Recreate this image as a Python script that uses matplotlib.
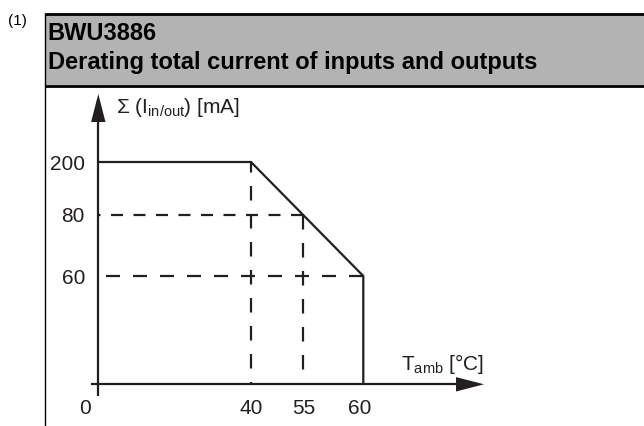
import numpy as np
import matplotlib
matplotlib.use("Agg")
import matplotlib.pyplot as plt
from matplotlib.patches import Rectangle
from matplotlib.lines import Line2D

# ---------------- data ----------------
title_code = "BWU3886"
title_text = "Derating total current of inputs and outputs"
note_text = "(1)"
curve_T = [0, 40, 60, 60]          # ambient temperature [°C]
curve_I = [200, 200, 60, 0]        # total current [mA]
guide_T = [40, 55, 60]
guide_I = [200, 80, 60]
x_tick_vals = [0, 40, 55, 60]
x_tick_labels = ["0", "40", "55", "60"]
y_tick_vals = [60, 80, 200]
y_tick_labels = ["60", "80", "200"]
y_label = "\u03a3 (I$_{in/out}$) [mA]"
x_label = "T$_{amb}$ [°C]"

# ---------------- style ----------------
plt.rcParams['font.family'] = ['Liberation Sans', 'DejaVu Sans']
plt.rcParams['mathtext.fontset'] = 'custom'
plt.rcParams['mathtext.rm'] = 'Liberation Sans'
plt.rcParams['mathtext.it'] = 'Liberation Sans'
plt.rcParams['mathtext.default'] = 'regular'
plt.rcParams['lines.scale_dashes'] = False

INK = '#231f20'
GRAY = '#b3b3b3'
W, H = 644, 426
PT = 0.72  # px -> pt at dpi 100

fig = plt.figure(figsize=(W / 100, H / 100), dpi=100)
fx = lambda x: x / W
fy = lambda y: 1 - y / H

# header box
fig.add_artist(Rectangle((fx(45), fy(85)), fx(W) - fx(45), fy(14) - fy(85),
                         transform=fig.transFigure, facecolor=GRAY, edgecolor='none'))
fig.add_artist(Line2D([fx(45), 1], [fy(14), fy(14)], transform=fig.transFigure,
                      color='black', lw=2.0, solid_capstyle='butt'))
fig.add_artist(Line2D([fx(45), 1], [fy(85.5), fy(85.5)], transform=fig.transFigure,
                      color='black', lw=2.0, solid_capstyle='butt'))
fig.add_artist(Line2D([fx(45), fx(45)], [fy(13), 0], transform=fig.transFigure,
                      color='black', lw=1.0, solid_capstyle='butt'))
fig.text(fx(8), fy(25), note_text, fontsize=11, va='baseline', ha='left', color='black')
fig.text(fx(47.5), fy(40.5), title_code, fontsize=17, fontweight='bold',
         va='baseline', ha='left', color='black')
fig.text(fx(47.5), fy(69.5), title_text, fontsize=17, fontweight='bold',
         va='baseline', ha='left', color='black')

# ---------------- schematic (non-linear) axis scales ----------------
x0_px, y0_px = 98.3, 384.3
xb_val = np.array([-20, 0, 40, 55, 60, 120], float)
xb_pos = np.array([-76.4, 0, 152.7, 205.0, 265.0, 530.2])
yb_val = np.array([-40, 0, 60, 80, 200, 400], float)
yb_pos = np.array([-72.2, 0, 108.3, 169.3, 222.3, 442.3])

xf = lambda v: np.interp(v, xb_val, xb_pos)
xi = lambda p: np.interp(p, xb_pos, xb_val)
yf = lambda v: np.interp(v, yb_val, yb_pos)
yi = lambda p: np.interp(p, yb_pos, yb_val)

ax_l, ax_r, ax_b, ax_t = 91.0, 484.0, 395.7, 94.0
ax = fig.add_axes([fx(ax_l), fy(ax_b), (ax_r - ax_l) / W, (ax_b - ax_t) / H])
ax.set_xscale('function', functions=(xf, xi))
ax.set_yscale('function', functions=(yf, yi))
ax.set_xlim(xi(ax_l - x0_px), xi(ax_r - x0_px))
ax.set_ylim(yi(y0_px - ax_b), yi(y0_px - ax_t))
ax.patch.set_visible(False)

for s in ['top', 'right']:
    ax.spines[s].set_visible(False)
ax.spines['left'].set_position(('data', 0))
ax.spines['bottom'].set_position(('data', 0))
for s in ['left', 'bottom']:
    ax.spines[s].set_color(INK)
    ax.spines[s].set_linewidth(1.6)
    ax.spines[s].set_capstyle('butt')
ax.spines['bottom'].set_bounds(xi(ax_l - x0_px), xi(ax_r - x0_px - 6))
ax.spines['left'].set_bounds(yi(y0_px - ax_b), yi(y0_px - ax_t - 6))

# arrow heads
head = '-|>,head_length=%.2f,head_width=%.2f' % (28 * PT, 7.2 * PT)
ax.annotate('', xy=(1, 0), xycoords=ax.get_yaxis_transform(),
            xytext=(-30 * PT, 0), textcoords='offset points',
            arrowprops=dict(arrowstyle=head, mutation_scale=1, lw=0, color=INK,
                            shrinkA=0, shrinkB=0))
ax.annotate('', xy=(0, 1), xycoords=ax.get_xaxis_transform(),
            xytext=(0, -30 * PT), textcoords='offset points',
            arrowprops=dict(arrowstyle=head, mutation_scale=1, lw=0, color=INK,
                            shrinkA=0, shrinkB=0))

# derating curve
ax.plot(curve_T, curve_I, color=INK, lw=1.6, solid_joinstyle='miter',
        solid_capstyle='butt', clip_on=False)

# dashed guides
vdash = (0, (14.5 * PT, 13.5 * PT))
ax.plot([guide_T[0], guide_T[0]], [guide_I[0], 0], color=INK, lw=1.6,
        ls=(4 * PT, (14.5 * PT, 13.5 * PT)), dash_capstyle='butt')
ax.plot([guide_T[1], guide_T[1]], [guide_I[1], 0], color=INK, lw=1.6,
        ls=vdash, dash_capstyle='butt')
ax.plot([guide_T[1], 0], [guide_I[1], guide_I[1]], color=INK, lw=1.6,
        ls=(0, (12 * PT, 10.5 * PT)), dash_capstyle='butt')
ax.plot([guide_T[2], 0], [guide_I[2], guide_I[2]], color=INK, lw=1.6,
        ls=(0, (14 * PT, 13 * PT)), dash_capstyle='butt')

# ticks
ax.set_xticks([])
ax.set_yticks(y_tick_vals, labels=y_tick_labels)
ax.tick_params(axis='y', length=0, pad=13.3 * PT, labelsize=15, labelcolor='#231f20')
x_label_dx = {"0": -13, "60": -4}
for v, lab in zip(x_tick_vals, x_tick_labels):
    ax.annotate(lab, xy=(v, 0), xycoords='data',
                xytext=(x_label_dx.get(lab, 0) * PT, -14.5 * PT), textcoords='offset points',
                ha='center', va='top', fontsize=15, color='#231f20', annotation_clip=False)

# axis titles
fig.text(fx(116.5), fy(113), y_label, fontsize=15, ha='left', va='baseline', color='#231f20')
ax.annotate(x_label, xy=(1, 0), xycoords=ax.get_yaxis_transform(),
            xytext=(0, 14.3 * PT), textcoords='offset points',
            ha='right', va='baseline', fontsize=15, color='#231f20', annotation_clip=False)

fig.savefig('out.png', dpi=100)
